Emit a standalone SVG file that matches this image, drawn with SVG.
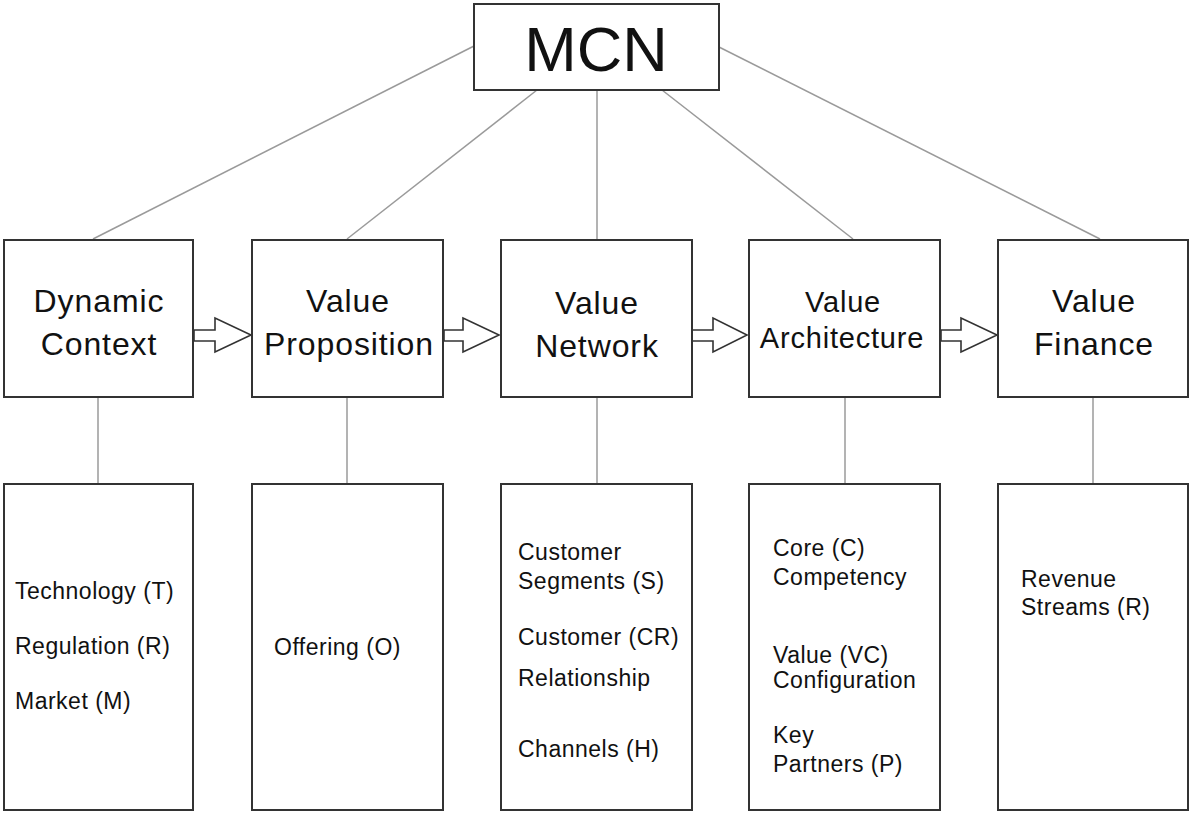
<svg xmlns="http://www.w3.org/2000/svg" width="1191" height="814" viewBox="0 0 1191 814">
  <style>
    .box { fill: #fff; stroke: #333; stroke-width: 2; }
    .link { stroke: #9a9a9a; stroke-width: 1.5; fill: none; }
    .flow { fill: #fff; stroke: #333; stroke-width: 1.6; stroke-linejoin: miter; }
    text { font-family: "Liberation Sans", Arial, Helvetica, sans-serif; fill: #111; }
    .title { font-size: 63px; text-anchor: middle; }
    .head { font-size: 32px; text-anchor: middle; letter-spacing: 0.9px; }
    .head-sm { font-size: 29px; text-anchor: middle; letter-spacing: 0.8px; }
    .item { font-size: 23px; letter-spacing: 0.5px; }
  </style>
  <rect width="1191" height="814" fill="#fff"/>

  <!-- connectors -->
  <g id="connectors">
    <line class="link" x1="474" y1="46" x2="93" y2="239"/>
    <line class="link" x1="537" y1="90" x2="347" y2="239"/>
    <line class="link" x1="597" y1="90" x2="597" y2="239"/>
    <line class="link" x1="662" y1="90" x2="853" y2="239"/>
    <line class="link" x1="719" y1="47" x2="1100" y2="239"/>
    <line class="link" x1="98" y1="398" x2="98" y2="485"/>
    <line class="link" x1="347" y1="398" x2="347" y2="485"/>
    <line class="link" x1="597" y1="398" x2="597" y2="485"/>
    <line class="link" x1="845" y1="398" x2="845" y2="485"/>
    <line class="link" x1="1093" y1="398" x2="1093" y2="485"/>
    <!-- block arrows between stages -->
    <path class="flow" d="M194,330 H215 V318 L251,335 L215,352 V341 H194 Z"/>
    <path class="flow" d="M444,330 H463 V318 L499,335 L463,352 V341 H444 Z"/>
    <path class="flow" d="M692,330 H713 V318 L747,335 L713,352 V341 H692 Z"/>
    <path class="flow" d="M941,330 H961 V318 L997,335 L961,352 V341 H941 Z"/>
  </g>

  <g id="mcn">
    <rect class="box" x="474" y="4" width="245" height="86"/>
    <text class="title" x="596" y="71">MCN</text>
  </g>

  <g id="dynamic-context">
    <rect class="box" x="4" y="240" width="189" height="157"/>
    <text class="head" x="99" y="312">Dynamic</text>
    <text class="head" x="99" y="355">Context</text>
  </g>
  <g id="value-proposition">
    <rect class="box" x="252" y="240" width="191" height="157"/>
    <text class="head" x="348" y="312">Value</text>
    <text class="head" x="349" y="355">Proposition</text>
  </g>
  <g id="value-network">
    <rect class="box" x="501" y="240" width="191" height="157"/>
    <text class="head" x="597" y="314">Value</text>
    <text class="head" x="597" y="357">Network</text>
  </g>
  <g id="value-architecture">
    <rect class="box" x="749" y="240" width="191" height="157"/>
    <text class="head-sm" x="843" y="312">Value</text>
    <text class="head-sm" x="842" y="348">Architecture</text>
  </g>
  <g id="value-finance">
    <rect class="box" x="998" y="240" width="190" height="157"/>
    <text class="head" x="1094" y="312">Value</text>
    <text class="head" x="1094" y="355">Finance</text>
  </g>

  <g id="context-items">
    <rect class="box" x="4" y="484" width="189" height="326"/>
    <text class="item" x="15" y="599">Technology (T)</text>
    <text class="item" x="15" y="654">Regulation (R)</text>
    <text class="item" x="15" y="709">Market (M)</text>
  </g>
  <g id="proposition-items">
    <rect class="box" x="252" y="484" width="191" height="326"/>
    <text class="item" x="274" y="655">Offering (O)</text>
  </g>
  <g id="network-items">
    <rect class="box" x="501" y="484" width="191" height="326"/>
    <text class="item" x="518" y="560">Customer</text>
    <text class="item" x="518" y="589">Segments (S)</text>
    <text class="item" x="518" y="645">Customer (CR)</text>
    <text class="item" x="518" y="686">Relationship</text>
    <text class="item" x="518" y="757">Channels (H)</text>
  </g>
  <g id="architecture-items">
    <rect class="box" x="749" y="484" width="191" height="326"/>
    <text class="item" x="773" y="556">Core (C)</text>
    <text class="item" x="773" y="585">Competency</text>
    <text class="item" x="773" y="663">Value (VC)</text>
    <text class="item" x="773" y="688">Configuration</text>
    <text class="item" x="773" y="743">Key</text>
    <text class="item" x="773" y="772">Partners (P)</text>
  </g>
  <g id="finance-items">
    <rect class="box" x="998" y="484" width="190" height="326"/>
    <text class="item" x="1021" y="587">Revenue</text>
    <text class="item" x="1021" y="615">Streams (R)</text>
  </g>
</svg>
